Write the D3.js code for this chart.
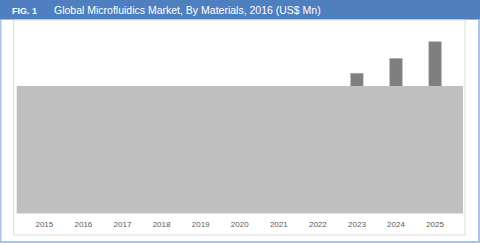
<!DOCTYPE html>
<html>
<head>
<meta charset="utf-8">
<script src="https://cdn.jsdelivr.net/npm/d3@7"></script>
<style>
  body { margin: 0; background: #fff; }
  svg { display: block; font-family: 'Liberation Sans', Arial, sans-serif; }
</style>
</head>
<body>
<div id="chart"></div>
<script>
// years on the x axis
const years = ['2015', '2016', '2017', '2018', '2019', '2020', '2021', '2022', '2023', '2024', '2025'];
// market size, US$ Mn (only the last three bars show above the overlay)
const marketValues = [null, null, null, null, null, null, null, null, 10870, 12030, 13320];
const figLabel = 'FIG. 1';
const titleText = 'Global Microfluidics Market, By Materials, 2016 (US$ Mn)';

const W = 480, H = 243;

const svg = d3.select('#chart').append('svg')
  .attr('width', W)
  .attr('height', H);

// outer frame
svg.append('rect').attr('x', 0).attr('y', 0).attr('width', W).attr('height', H).attr('fill', '#fff');
svg.append('rect').attr('x', 0).attr('y', 0).attr('width', 1.5).attr('height', H).attr('fill', '#a9c4e8');
svg.append('rect').attr('x', W - 2).attr('y', 0).attr('width', 2).attr('height', H).attr('fill', '#a9c4e8');
svg.append('rect').attr('x', 0).attr('y', H - 2).attr('width', W).attr('height', 2).attr('fill', '#a9c4e8');

// title bar
svg.append('rect').attr('x', 0).attr('y', 0).attr('width', W).attr('height', 19).attr('fill', '#4f7fbe');
svg.append('rect').attr('x', 0).attr('y', 19).attr('width', W).attr('height', 1).attr('fill', '#9db6dd');

svg.append('text')
  .attr('x', 12).attr('y', 13.5)
  .attr('fill', '#fff')
  .style('font-size', '9px')
  .style('font-weight', 'bold')
  .text(figLabel);

svg.append('text')
  .attr('x', 54).attr('y', 14)
  .attr('fill', '#fff')
  .style('font-size', '10.5px')
  .text(titleText);

// chart panel border
svg.append('rect')
  .attr('x', 13.5).attr('y', 20)
  .attr('width', 451.5).attr('height', 215)
  .attr('fill', 'none')
  .attr('stroke', '#dcdcdc')
  .attr('stroke-width', 1);

const x = d3.scaleBand()
  .domain(years)
  .range([24.8, 454.6])
  .paddingInner(0.68)
  .paddingOuter(0.34);

const y = d3.scaleLinear()
  .domain([0, 14000])
  .range([213, 33]);

// bars
svg.append('g')
  .selectAll('rect')
  .data(years.map((d, i) => ({ year: d, value: marketValues[i] })).filter(d => d.value !== null))
  .enter()
  .append('rect')
  .attr('x', d => x(d.year))
  .attr('y', d => y(d.value))
  .attr('width', x.bandwidth())
  .attr('height', d => y(0) - y(d.value))
  .attr('fill', '#7f7f7f')
  .attr('stroke', '#b0b0b0')
  .attr('stroke-width', 0.6);

// grey overlay covering the lower part of the chart
svg.append('rect')
  .attr('x', 16.7).attr('y', 86)
  .attr('width', 446.3).attr('height', 127)
  .attr('fill', '#bfbfbf');
svg.append('rect')
  .attr('x', 16.7).attr('y', 213)
  .attr('width', 446.3).attr('height', 1)
  .attr('fill', '#e2e2e2');

// x axis labels
const xAxis = d3.axisBottom(x).tickSize(0).tickPadding(0);
const gx = svg.append('g')
  .attr('transform', 'translate(0,' + 221.5 + ')')
  .call(xAxis);
gx.select('.domain').remove();
gx.selectAll('text')
  .attr('fill', '#595959')
  .style('font-size', '8px')
  .style('font-family', "'Liberation Sans', Arial, sans-serif");
</script>
</body>
</html>
